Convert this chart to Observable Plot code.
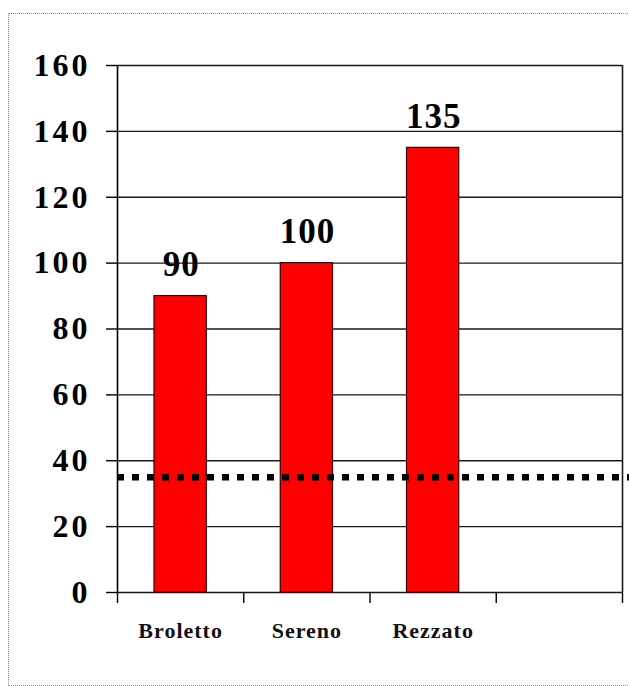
<!DOCTYPE html>
<html>
<head>
<meta charset="utf-8">
<script src="https://cdn.jsdelivr.net/npm/d3@7"></script>
<script src="https://cdn.jsdelivr.net/npm/@observablehq/plot@0.6"></script>
<style>
  html, body { margin: 0; padding: 0; background: #fff; overflow: hidden; }
  #wrap { position: relative; width: 629px; height: 686px; overflow: hidden; }
  #border { position: absolute; left: 8px; top: 13px; width: 700px; height: 673px; border: 1px dotted #8a8a8a; box-sizing: border-box; pointer-events: none; }
  #chart { position: absolute; left: 0; top: 0; }
  #chart .ytick text { letter-spacing: 3px; }
  #chart .vlabel text { letter-spacing: 1px; }
  #chart .cat text { letter-spacing: 1px; }
</style>
</head>
<body>
<div id="wrap"><div id="chart"></div><div id="border"></div></div>
<script>
// Data
const categories = ["Broletto", "Sereno", "Rezzato"];
const values = [90, 100, 135];
const slotCount = 4;            // the category axis has one empty slot at the end
const threshold = 35;           // dotted reference line
const yTicks = [0, 20, 40, 60, 80, 100, 120, 140, 160];
const slotTicks = [0, 1, 2, 3, 4];

const bars = categories.map((c, i) => ({category: c, value: values[i], slot: i}));

const font = "'Liberation Serif', 'Times New Roman', serif";

const chart = Plot.plot({
  width: 629,
  height: 686,
  marginLeft: 117,
  marginRight: 0,
  marginTop: 65,
  marginBottom: 94,
  style: {fontFamily: font, background: "transparent", overflow: "visible"},
  x: {domain: [0, slotCount], range: [117, 622], axis: null},
  y: {domain: [0, 160], axis: null},
  marks: [
    // horizontal gridlines (incl. top frame and baseline)
    Plot.ruleY(yTicks, {x1: 0, x2: slotCount, stroke: "#1a1a1a", strokeWidth: 1.4}),
    // right frame
    Plot.ruleX([slotCount], {y1: 0, y2: 160, stroke: "#1a1a1a", strokeWidth: 1.6}),
    // bars
    Plot.rectY(bars, {
      x1: d => d.slot, x2: d => d.slot + 1, y1: 0, y2: "value",
      insetLeft: 37, insetRight: 37,
      fill: "#ff0000", stroke: "#3a0000", strokeWidth: 1.2
    }),
    // threshold dotted line
    Plot.ruleY([threshold], {stroke: "#000", strokeWidth: 6.5, strokeDasharray: "7,8"}),
    // value labels
    Plot.text(bars, {
      x: d => d.slot + 0.5, y: "value", text: d => String(d.value),
      dy: -20, dx: 0.5, lineAnchor: "bottom",
      fontSize: 35, fontWeight: "bold", fill: "#000", className: "vlabel"
    }),
    // y axis line
    Plot.ruleX([0], {y1: 0, y2: 160, stroke: "#000", strokeWidth: 1.6}),
    // y axis ticks & labels
    Plot.axisY(yTicks, {
      tickSize: 11, tickPadding: 16, fontSize: 32, fontWeight: "bold",
      stroke: "#000", strokeWidth: 1.4, fill: "#000", label: null,
      tickFormat: d => String(d), className: "ytick"
    }),
    // x axis slot boundary ticks
    Plot.axisX(slotTicks, {tickSize: 11, tickFormat: () => "", stroke: "#000", strokeWidth: 1.4, label: null}),
    // category labels
    Plot.axisX(categories.map((c, i) => i + 0.5), {
      tickSize: 0, tickPadding: 30, fontSize: 22, fontWeight: 600, fill: "#111",
      label: null, tickFormat: d => categories[Math.floor(d)], className: "cat"
    })
  ]
});

document.getElementById("chart").appendChild(chart);
</script>
</body>
</html>
